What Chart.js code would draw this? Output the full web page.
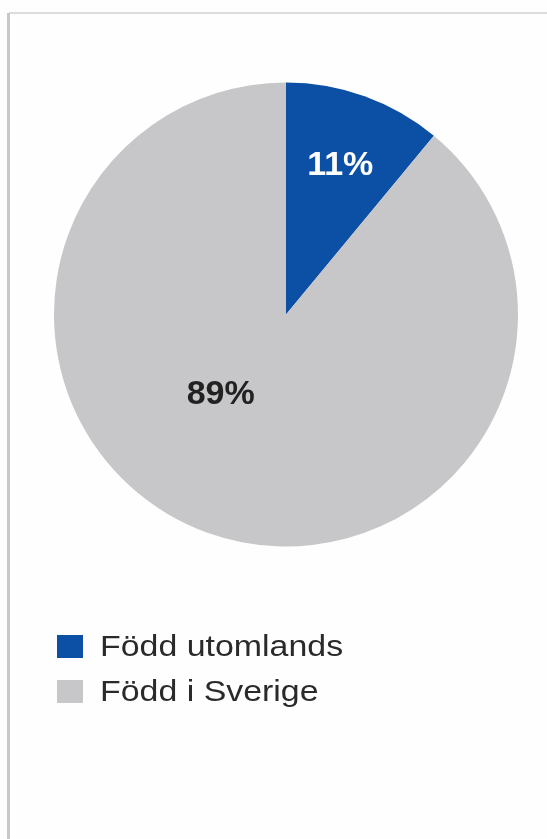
<!DOCTYPE html>
<html>
<head>
<meta charset="utf-8">
<script src="https://cdn.jsdelivr.net/npm/chart.js@4"></script>
<style>
  html, body { margin: 0; padding: 0; background: #fefefe; }
  body { width: 547px; height: 839px; position: relative; overflow: hidden; font-family: "Liberation Sans", Arial, sans-serif; }
  #topline { position: absolute; left: 9px; top: 12px; width: 538px; height: 2px; background: #dcdcdc; }
  #leftline { position: absolute; left: 7px; top: 13px; width: 3px; height: 826px; background: #c8c8c8; }
  #graf { position: absolute; left: 0; top: 0; }
  #legende { position: absolute; left: 57px; top: 631px; }
  .item { height: 45px; display: flex; align-items: flex-start; }
  .carre { width: 26px; height: 23px; margin-top: 4px; }
  .texte { font-size: 30px; color: #2a2a2a; margin-left: 17px; line-height: 30px; transform: scaleX(1.13); transform-origin: left; white-space: nowrap; }
</style>
</head>
<body>
<div id="topline"></div>
<div id="leftline"></div>
<canvas id="graf" width="547" height="839"></canvas>
<div id="legende"></div>
<script>
// données du camembert
const categories = ['Född utomlands', 'Född i Sverige'];
const valeurs = [11, 89];
const etiquettes = ['11%', '89%'];
const couleurs = ['#0b50a5', '#c7c7c9'];
const couleursTexte = ['#ffffff', '#222222'];

// étiquettes des parts (position relative au rayon, décalage d'angle en degrés)
const etiquettesPlugin = {
  id: 'etiquettes',
  afterDatasetsDraw(chart, args, opts) {
    const ctx = chart.ctx;
    const arcs = chart.getDatasetMeta(0).data;
    ctx.save();
    ctx.font = 'bold 34px "Liberation Sans", Arial, sans-serif';
    ctx.textAlign = 'center';
    ctx.textBaseline = 'middle';
    arcs.forEach((arc, i) => {
      const p = arc.getProps(['x', 'y', 'startAngle', 'endAngle', 'outerRadius']);
      const a = (p.startAngle + p.endAngle) / 2 + opts.decalage[i] * Math.PI / 180;
      const r = p.outerRadius * opts.rayon[i];
      ctx.fillStyle = couleursTexte[i];
      ctx.fillText(etiquettes[i], p.x + Math.cos(a) * r, p.y + Math.sin(a) * r + 2);
    });
    ctx.restore();
  }
};

new Chart(document.getElementById('graf'), {
  type: 'pie',
  data: {
    labels: categories,
    datasets: [{
      data: valeurs,
      backgroundColor: couleurs,
      borderWidth: 0,
      hoverOffset: 0
    }]
  },
  options: {
    responsive: false,
    animation: false,
    layout: { padding: { left: 54, right: 29, top: 82, bottom: 292 } },
    plugins: {
      legend: { display: false },
      tooltip: { enabled: false },
      etiquettes: { rayon: [0.69, 0.44], decalage: [0, 20] }
    }
  },
  plugins: [etiquettesPlugin]
});

// légende en HTML
const legende = document.getElementById('legende');
categories.forEach((nom, i) => {
  const item = document.createElement('div');
  item.className = 'item';
  item.innerHTML = '<div class="carre" style="background:' + couleurs[i] + '"></div><div class="texte">' + nom + '</div>';
  legende.appendChild(item);
});
</script>
</body>
</html>
